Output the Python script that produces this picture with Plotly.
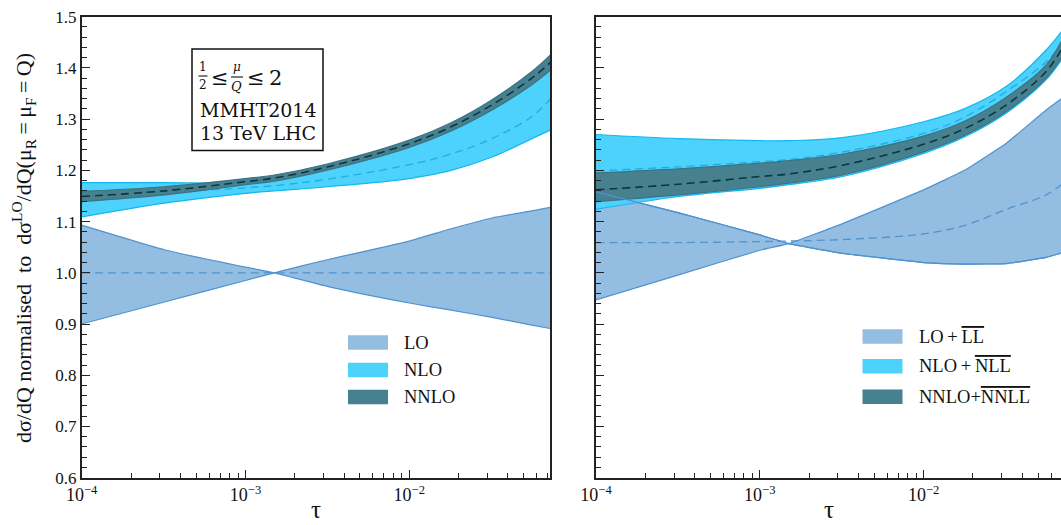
import plotly.graph_objects as go

W, H = 1061, 525

# ---------------- data ----------------
TAU = [1e-4, 3.2e-4, 1e-3, 1.5e-3, 3.2e-3, 1e-2, 1.8e-2, 3.2e-2, 5.6e-2, 7.3e-2]

# left panel: fixed order
LO_A = [1.093, 1.045, 1.011, 1.000, 0.973, 0.941, 0.927, 0.913, 0.898, 0.891]
LO_B = [0.900, 0.943, 0.985, 1.000, 1.026, 1.062, 1.086, 1.107, 1.121, 1.128]
LO_C = [1.000, 1.000, 1.000, 1.000, 1.000, 1.000, 1.000, 1.000, 1.000, 1.000]

NLO_UP = [1.176, 1.176, 1.176, 1.182, 1.204, 1.248, 1.280, 1.321, 1.370, 1.399]
NLO_LO = [1.109, 1.136, 1.155, 1.160, 1.168, 1.184, 1.200, 1.226, 1.262, 1.279]
NLO_C = [1.150, 1.157, 1.166, 1.170, 1.183, 1.211, 1.232, 1.262, 1.305, 1.340]

NNLO_UP = [1.159, 1.168, 1.184, 1.191, 1.213, 1.259, 1.293, 1.338, 1.393, 1.426]
NNLO_LO = [1.139, 1.152, 1.172, 1.179, 1.201, 1.245, 1.277, 1.318, 1.367, 1.396]
NNLO_C = [1.149, 1.160, 1.178, 1.185, 1.207, 1.252, 1.285, 1.328, 1.380, 1.411]

# right panel: matched to resummation
LOLL_A = [1.158, 1.117, 1.074, 1.057, 1.038, 1.020, 1.017, 1.018, 1.030, 1.041]
LOLL_B = [0.947, 0.996, 1.044, 1.057, 1.096, 1.162, 1.201, 1.253, 1.318, 1.345]
LOLL_C = [1.059, 1.059, 1.061, 1.062, 1.065, 1.076, 1.093, 1.124, 1.152, 1.178]

NLONLL_UP = [1.270, 1.262, 1.258, 1.258, 1.264, 1.295, 1.321, 1.364, 1.435, 1.480]
NLONLL_LO = [1.124, 1.149, 1.165, 1.172, 1.188, 1.233, 1.266, 1.312, 1.377, 1.426]
NLONLL_C = [1.199, 1.207, 1.217, 1.221, 1.236, 1.272, 1.305, 1.354, 1.412, 1.455]

NNLONNLL_UP = [1.195, 1.203, 1.214, 1.219, 1.232, 1.267, 1.297, 1.343, 1.406, 1.466]
NNLONNLL_LO = [1.139, 1.152, 1.168, 1.175, 1.191, 1.236, 1.269, 1.315, 1.380, 1.430]
NNLONNLL_C = [1.162, 1.173, 1.188, 1.193, 1.210, 1.251, 1.282, 1.328, 1.393, 1.448]

X_TICKS = [1e-4, 1e-3, 1e-2]
X_TICKTEXT = ["10<sup>\u22124</sup>", "10<sup>\u22123</sup>", "10<sup>\u22122</sup>"]
X_MINOR = [m * d for d in (1e-4, 1e-3, 1e-2) for m in range(2, 10) if m * d < 0.08]

LEFT_LEGEND = ["LO", "NLO", "NNLO"]
RIGHT_LEGEND = [
    "LO\u2009+\u2009<span style=\"text-decoration:overline\">LL</span>",
    "NLO\u2009+\u2009<span style=\"text-decoration:overline\">NLL</span>",
    "NNLO+<span style=\"text-decoration:overline\">NNLL</span>",
]

# ---------------- style ----------------
LO_FILL, LO_LINE = "#93bde1", "#4f93d1"
NLO_FILL, NLO_LINE, NLO_DASH = "#4dd1fd", "#12b8f0", "#1cb0e2"
NNLO_FILL, NNLO_LINE, NNLO_DASH = "#47808f", "#3b7384", "#0c3642"
AXC = "#222222"
SERIF = "Liberation Serif"

def px(x):
    return x / W

def py(y):
    return 1 - y / H

fig = go.Figure()

def edge_line(xa, ya, vals, color, shape, sm, fill=None, fillcolor=None):
    fig.add_trace(go.Scatter(x=TAU, y=vals, mode="lines", xaxis=xa, yaxis=ya,
                             fill=fill, fillcolor=fillcolor,
                             line=dict(color=color, width=1.2, shape=shape, smoothing=sm),
                             showlegend=False, hoverinfo="skip"))

def band(xa, ya, lower, upper, central, fill, edge, dashc, shape, dashw=1.3, sm=1.0):
    edge_line(xa, ya, lower, edge, shape, sm)
    edge_line(xa, ya, upper, edge, shape, sm, "tonexty", fill)
    fig.add_trace(go.Scatter(x=TAU, y=central, mode="lines", xaxis=xa, yaxis=ya,
                             line=dict(color=dashc, width=dashw, dash="8px,5px", shape="spline"),
                             showlegend=False, hoverinfo="skip"))

band("x", "y", LO_B, LO_A, LO_C, LO_FILL, LO_LINE, LO_LINE, "spline", sm=0.5)
band("x", "y", NLO_LO, NLO_UP, NLO_C, NLO_FILL, NLO_LINE, NLO_DASH, "spline")
band("x", "y", NNLO_LO, NNLO_UP, NNLO_C, NNLO_FILL, NNLO_LINE, NNLO_DASH, "spline", 1.6)

band("x2", "y2", LOLL_B, LOLL_A, LOLL_C, LO_FILL, LO_LINE, LO_LINE, "spline", sm=0.3)
band("x2", "y2", NLONLL_LO, NLONLL_UP, NLONLL_C, NLO_FILL, NLO_LINE, NLO_DASH, "spline")
band("x2", "y2", NNLONNLL_LO, NNLONNLL_UP, NNLONNLL_C, NNLO_FILL, NNLO_LINE, NNLO_DASH, "spline", 1.6)
# LO+LL edge drawn again on top (visible across the other bands in the reference)
edge_line("x2", "y2", LOLL_A, LO_LINE, "spline", 0.3)

ytickfont = dict(family=SERIF, size=17, color="#111")
xtickfont = dict(family=SERIF, size=18, color="#111")

def xaxis_cfg(dom, rng):
    return dict(type="log", domain=dom, range=rng, showline=True, linecolor=AXC,
                linewidth=1.6, mirror=True, ticks="inside", ticklen=8, tickwidth=1.3,
                tickcolor=AXC, tickvals=X_TICKS, ticktext=X_TICKTEXT, tickfont=xtickfont,
                showgrid=False, zeroline=False, automargin=False,
                minor=dict(tickvals=X_MINOR, ticks="inside", ticklen=5, tickwidth=1.1,
                           tickcolor=AXC, showgrid=False))

def yaxis_cfg(dom, labels, mirror):
    return dict(domain=dom, range=[0.6, 1.5], showline=True, linecolor=AXC,
                linewidth=1.6, mirror=mirror, ticks="inside", ticklen=8, tickwidth=1.3,
                tickcolor=AXC, tick0=0.6, dtick=0.1, tickformat=".1f",
                showticklabels=labels, tickfont=ytickfont, showgrid=False, zeroline=False,
                automargin=False,
                minor=dict(dtick=0.02, ticks="inside", ticklen=5, tickwidth=1.1,
                           tickcolor=AXC, showgrid=False))

ydom = [py(477.7), py(16.7)]
fig.update_layout(
    width=W, height=H, margin=dict(l=0, r=0, t=0, b=0, autoexpand=False),
    paper_bgcolor="white", plot_bgcolor="white", showlegend=False,
    xaxis=xaxis_cfg([px(81.7), px(550)], [-4, -1.141]),
    yaxis=yaxis_cfg(ydom, True, True),
    xaxis2=dict(xaxis_cfg([px(596), 1.0], [-4, -1.1612]), anchor="y2"),
    yaxis2=dict(yaxis_cfg(ydom, False, False), anchor="x2"),
)
fig.layout.xaxis.anchor = "y"
fig.layout.yaxis.anchor = "x"

ann = []
shapes = []

# axis titles
ann.append(dict(xref="paper", yref="paper", x=px(24), y=py(248), textangle=-90,
                showarrow=False, xanchor="center", yanchor="middle",
                text="d\u03c3/dQ normalised\u00a0\u00a0to\u00a0\u00a0d\u03c3<sup>LO</sup>/dQ(\u03bc<sub>R</sub>\u2009=\u2009\u03bc<sub>F</sub>\u2009=\u2009Q)",
                font=dict(family=SERIF, size=22, color="#111")))
for cx in (316, 829):
    ann.append(dict(xref="paper", yref="paper", x=px(cx), y=0.0, showarrow=False,
                    xanchor="center", yanchor="bottom", text="\u03c4",
                    font=dict(family=SERIF, size=25, color="#111")))

# info box
shapes.append(dict(type="rect", xref="paper", yref="paper", x0=px(192), x1=px(323),
                   y0=py(150.5), y1=py(49), line=dict(color="#111", width=1.5)))
BOXF = "DejaVu Serif"
def t(x, y, s, size, anchor="left", italic=False):
    txt = f"<i>{s}</i>" if italic else s
    ann.append(dict(xref="paper", yref="paper", x=px(x), y=py(y), showarrow=False,
                    xanchor=anchor, yanchor="middle", text=txt,
                    font=dict(family=BOXF, size=size, color="#111")))
t(203, 67, "1", 12, "center")
t(203, 85, "2", 12, "center")
shapes.append(dict(type="line", xref="paper", yref="paper", x0=px(198.5), x1=px(207.5),
                   y0=py(76), y1=py(76), line=dict(color="#111", width=1.1)))
t(220, 78, "\u2264", 21, "center")
t(236.5, 67, "\u03bc", 12, "center", True)
t(236.5, 86, "Q", 13, "center", True)
shapes.append(dict(type="line", xref="paper", yref="paper", x0=px(231), x1=px(243),
                   y0=py(77), y1=py(77), line=dict(color="#111", width=1.1)))
t(256, 78, "\u2264", 21, "center")
t(266.5, 78, "2", 21, "left")
t(198, 109.5, "MMHT2014", 19)
t(198, 132.5, "13 TeV LHC", 19)

# legends
def legend(x0, xt, rows, labels):
    for yc, lab, col in zip(rows, labels, (LO_FILL, NLO_FILL, NNLO_FILL)):
        shapes.append(dict(type="rect", xref="paper", yref="paper", x0=px(x0), x1=px(x0 + 40),
                           y0=py(yc + 7.3), y1=py(yc - 7.3), fillcolor=col,
                           line=dict(width=0)))
        ann.append(dict(xref="paper", yref="paper", x=px(xt), y=py(yc), showarrow=False,
                        xanchor="left", yanchor="middle", text=lab,
                        font=dict(family=SERIF, size=18.5, color="#111")))

legend(348, 402, [342.5, 370, 397], LEFT_LEGEND)
legend(862.5, 917, [336.5, 366.3, 396.7], RIGHT_LEGEND)

fig.update_layout(annotations=ann, shapes=shapes)
fig.write_html("out.html", config={"displayModeBar": False},
               post_script="document.body.style.margin='0';document.body.style.overflow='hidden';")
